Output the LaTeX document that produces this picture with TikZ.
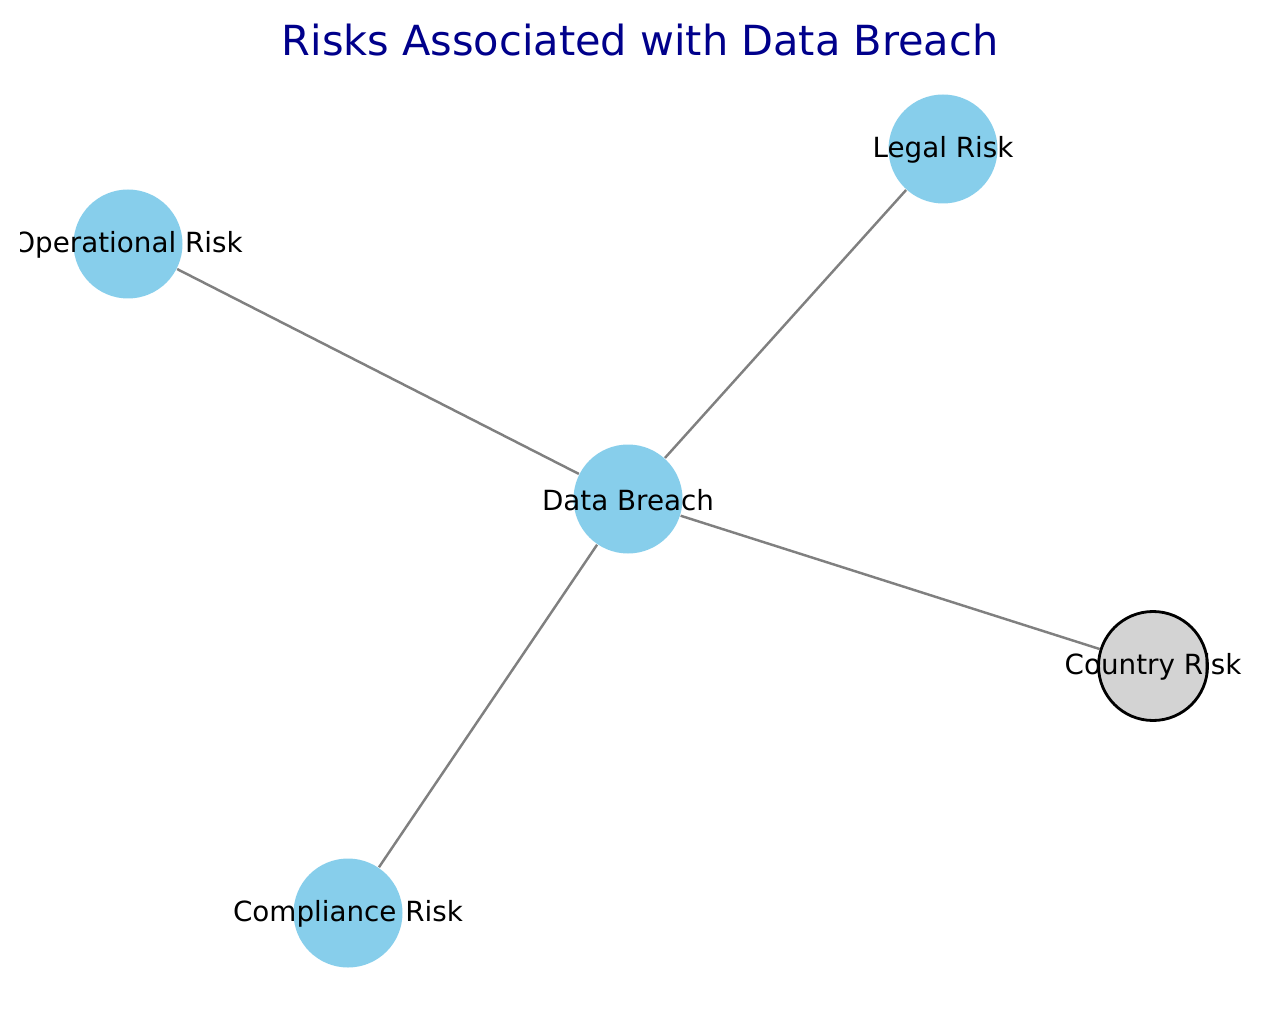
\documentclass[tikz,border=0pt]{standalone}
\usepackage{fontspec}
\setmainfont{DejaVu Sans}
\definecolor{skyblue}{RGB}{135,206,235}
\definecolor{lightgrey}{RGB}{211,211,211}
\definecolor{titleblue}{RGB}{0,0,139}
\begin{document}
\begin{tikzpicture}[
 risk/.style ={circle,fill=skyblue,draw=none,minimum size=1.09cm,inner sep=0pt,
   label={[font=\fontsize{7.9}{9.5}\selectfont,text=black,yshift=-0.01cm]center:#1}},
 country/.style ={circle,fill=lightgrey,draw=black,line width=0.8pt,minimum size=1.09cm,inner sep=0pt,
   label={[font=\fontsize{7.9}{9.5}\selectfont,text=black,yshift=-0.01cm]center:#1}},
 link/.style ={-,draw=gray,line width=0.7pt}
 ]
\useasboundingbox (0,0) rectangle (12.8,10.13);
%draw title
\node (title) at (6.40,9.73) {\fontsize{11.8}{14}\selectfont\color{titleblue}Risks Associated with Data Breach};
\begin{scope}
\clip (0.2,0) rectangle (12.8,10.13);
%draw risk nodes
\node[risk={Data Breach}] (breach) at (6.28,5.14) {};
\node[risk={Legal Risk}] (legal) at (9.43,8.64) {};
\node[risk={Operational Risk}] (operational) at (1.28,7.69) {};
\node[country={Country Risk}] (countryrisk) at (11.53,3.47) {};
\node[risk={Compliance Risk}] (compliance) at (3.48,1.00) {};
%draw links
\draw[link] (breach) -- (legal);
\draw[link] (breach) -- (operational);
\draw[link] (breach) -- (countryrisk);
\draw[link] (breach) -- (compliance);
\end{scope}
\end{tikzpicture}
\end{document}
